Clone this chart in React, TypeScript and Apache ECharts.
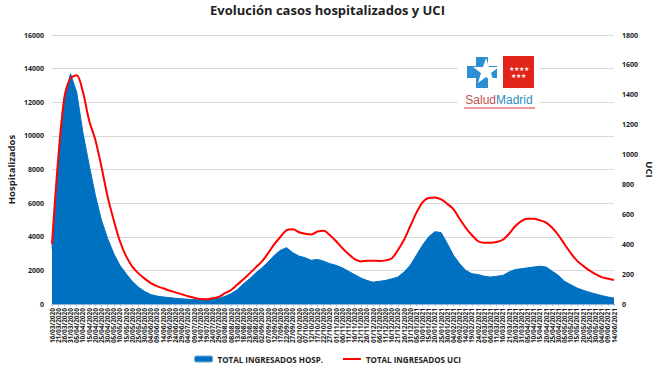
import React, { useEffect, useRef } from "react";
import * as echarts from "echarts";

const categories = [
  "16/03/2020","21/03/2020","26/03/2020","31/03/2020","05/04/2020","10/04/2020","15/04/2020","20/04/2020","25/04/2020","30/04/2020",
  "05/05/2020","10/05/2020","15/05/2020","20/05/2020","25/05/2020","30/05/2020","04/06/2020","09/06/2020","14/06/2020","19/06/2020",
  "24/06/2020","29/06/2020","04/07/2020","09/07/2020","14/07/2020","19/07/2020","24/07/2020","29/07/2020","03/08/2020","08/08/2020",
  "13/08/2020","18/08/2020","23/08/2020","28/08/2020","02/09/2020","07/09/2020","12/09/2020","17/09/2020","22/09/2020","27/09/2020",
  "02/10/2020","07/10/2020","12/10/2020","17/10/2020","22/10/2020","27/10/2020","01/11/2020","06/11/2020","11/11/2020","16/11/2020",
  "21/11/2020","26/11/2020","01/12/2020","06/12/2020","11/12/2020","16/12/2020","21/12/2020","26/12/2020","31/12/2020","05/01/2021",
  "10/01/2021","15/01/2021","20/01/2021","25/01/2021","30/01/2021","04/02/2021","09/02/2021","14/02/2021","19/02/2021","24/02/2021",
  "01/03/2021","06/03/2021","11/03/2021","16/03/2021","21/03/2021","26/03/2021","31/03/2021","05/04/2021","10/04/2021","15/04/2021",
  "20/04/2021","25/04/2021","30/04/2021","05/05/2021","10/05/2021","15/05/2021","20/05/2021","25/05/2021","30/05/2021","04/06/2021",
  "09/06/2021","14/06/2021"
];

const hospitalizados = [
  3300, 8200, 12300, 13700, 12600, 10200, 8300, 6500, 5000, 3900,
  3000, 2300, 1800, 1350, 1000, 750, 560, 470, 420, 380,
  340, 310, 280, 260, 250, 260, 290, 340, 450, 620,
  850, 1200, 1500, 1850, 2150, 2500, 2900, 3200, 3350, 3050,
  2850, 2750, 2600, 2650, 2550, 2400, 2300, 2150, 1950, 1750,
  1550, 1400, 1300, 1350, 1400, 1500, 1600, 1900, 2300, 2900,
  3500, 4000, 4300, 4250, 3600, 2900, 2400, 2000, 1800, 1750,
  1650, 1600, 1650, 1700, 1900, 2050, 2100, 2150, 2200, 2250,
  2200, 1950, 1700, 1350, 1150, 950, 820, 700, 600, 500,
  420, 350
];

const uci = [
  400, 970, 1380, 1510, 1530, 1420, 1230, 1100, 920, 720,
  560, 420, 320, 250, 205, 170, 140, 120, 105, 90,
  78, 65, 52, 42, 33, 32, 38, 48, 72, 94,
  130, 165, 205, 245, 285, 340, 400, 450, 495, 500,
  480, 470, 465, 485, 490, 460, 420, 375, 335, 300,
  285, 290, 290, 288, 292, 305, 360, 430, 520, 610,
  680, 710, 712, 700, 670, 635, 570, 510, 460, 420,
  410, 410, 415, 430, 470, 520, 555, 570, 570, 560,
  545, 510, 460, 400, 340, 290, 255, 225, 200, 180,
  170, 160
];

const seriesNames = ["TOTAL INGRESADOS HOSP.", "TOTAL INGRESADOS UCI"];
const titleText = "Evolución casos hospitalizados y UCI";

export default function App() {
  const ref = useRef<HTMLDivElement>(null);
  useEffect(() => {
    document.body.style.margin = "0";
    if (!ref.current) return;
    const chart = echarts.init(ref.current, null, { renderer: "svg" });
    const font = "'Open Sans', 'DejaVu Sans', sans-serif";
    const plain = (v: number) => String(v);
    const option: any = {
      animation: false,
      backgroundColor: "#ffffff",
      textStyle: { fontFamily: font },
      title: {
        text: titleText,
        left: "center",
        top: -2,
        textStyle: { fontSize: 13, fontWeight: "bold", color: "#222", fontFamily: font },
      },
      legend: {
        left: "center",
        top: 350,
        itemGap: 20,
        itemWidth: 18,
        itemHeight: 6,
        textStyle: { fontSize: 8, fontWeight: "bold", color: "#222", fontFamily: font },
        data: [
          { name: seriesNames[0], icon: "roundRect", itemStyle: { color: "#0070C0", borderColor: "#6fa8dc", borderWidth: 1 } },
          { name: seriesNames[1], icon: "path://M0,0 L20,0 L20,2.2 L0,2.2 Z", itemStyle: { color: "#ff0000" } },
        ],
      },
      grid: { left: 52, right: 41, top: 35, bottom: 71, containLabel: false, outerBoundsMode: "none" },
      xAxis: {
        type: "category",
        data: categories,
        boundaryGap: false,
        axisLine: { show: true, lineStyle: { color: "#8fb4d8", width: 1 } },
        axisTick: { show: true, interval: 0, length: 2, lineStyle: { color: "#8fb4d8" } },
        axisLabel: {
          interval: 0,
          rotate: 90,
          fontSize: 6.5,
          fontWeight: "bold",
          color: "#222",
          margin: 4,
          fontFamily: font,
        },
        splitLine: { show: false },
      },
      yAxis: [
        {
          type: "value",
          min: 0,
          max: 16000,
          interval: 2000,
          name: "Hospitalizados",
          nameLocation: "middle",
          nameGap: 41,
          nameRotate: 90,
          nameMoveOverlap: false,
          nameTextStyle: { fontSize: 9.5, fontWeight: "bold", color: "#222", fontFamily: font, align: "center", verticalAlign: "middle" },
          axisLine: { show: false },
          axisTick: { show: false },
          axisLabel: { fontSize: 7, fontWeight: "bold", color: "#222", margin: 8, fontFamily: font, formatter: plain },
          splitLine: { show: true, lineStyle: { color: "#d9d9d9", width: 1 } },
        },
        {
          type: "value",
          min: 0,
          max: 1800,
          interval: 200,
          name: "UCI",
          nameLocation: "middle",
          nameGap: 35,
          nameRotate: -90,
          nameMoveOverlap: false,
          nameTextStyle: { fontSize: 9.5, fontWeight: "bold", color: "#222", fontFamily: font, align: "center", verticalAlign: "middle" },
          axisLine: { show: false },
          axisTick: { show: false },
          axisLabel: { fontSize: 7, fontWeight: "bold", color: "#222", margin: 8, fontFamily: font, formatter: plain },
          splitLine: { show: false },
        },
      ],
      series: [
        {
          name: seriesNames[0],
          type: "line",
          yAxisIndex: 0,
          data: hospitalizados,
          symbol: "none",
          lineStyle: { width: 1, color: "#0070C0" },
          itemStyle: { color: "#0070C0" },
          areaStyle: { color: "#0070C0", opacity: 1 },
          z: 2,
        },
        {
          name: seriesNames[1],
          type: "line",
          yAxisIndex: 1,
          data: uci,
          symbol: "none",
          smooth: 0.3,
          lineStyle: { width: 2, color: "#ff0000" },
          itemStyle: { color: "#ff0000" },
          z: 3,
        },
      ],
      graphic: [
        { type: "rect", shape: { x: 458, y: 50, width: 82, height: 62 }, style: { fill: "#ffffff" }, z: 10 },
        {
          type: "polygon",
          shape: {
            points: [
              [476, 57], [488, 57], [488, 66], [497, 66], [497, 78], [488, 78], [488, 88],
              [476, 88], [476, 78], [467, 78], [467, 66], [476, 66],
            ],
          },
          style: { fill: "#2b8fd0" },
          z: 11,
        },
        {
          type: "polygon",
          shape: {
            points: [
              [486, 58], [489, 67], [499, 67], [491, 73], [494, 83], [486, 77], [478, 83], [481, 73], [473, 67], [483, 67],
            ],
          },
          style: { fill: "#ffffff" },
          z: 12,
        },
        { type: "rect", shape: { x: 503, y: 56, width: 31, height: 32 }, style: { fill: "#e1251b" }, z: 11 },
        {
          type: "text",
          x: 518.5,
          y: 72,
          style: {
            text: "★★★★\n★★★",
            fill: "#ffffff",
            fontSize: 6,
            lineHeight: 7,
            align: "center",
            verticalAlign: "middle",
          },
          z: 12,
        },
        {
          type: "text",
          x: 499,
          y: 100,
          style: {
            text: "{a|Salud}{b|Madrid}",
            align: "center",
            verticalAlign: "middle",
            rich: {
              a: { fontSize: 12, fill: "#c0504d", fontFamily: "'Liberation Sans', Arial, sans-serif" },
              b: { fontSize: 12, fill: "#2e8bc0", fontFamily: "'Liberation Sans', Arial, sans-serif" },
            },
          },
          z: 12,
        },
        { type: "line", shape: { x1: 464, y1: 108, x2: 535, y2: 108 }, style: { stroke: "#d9343a", lineWidth: 1 }, z: 12 },
      ],
    };
    chart.setOption(option);
    return () => chart.dispose();
  }, []);
  return <div ref={ref} style={{ width: 655, height: 375 }} />;
}
